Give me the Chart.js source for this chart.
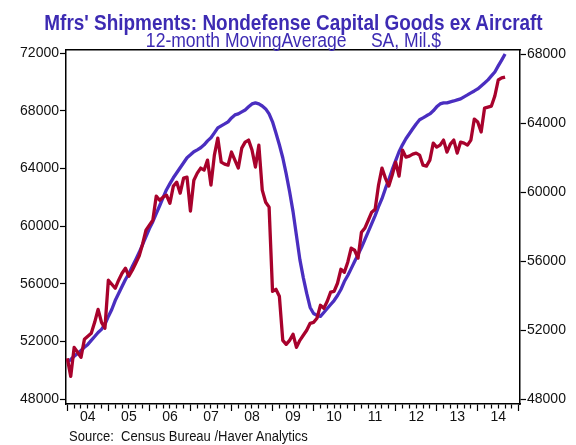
<!DOCTYPE html>
<html>
<head>
<meta charset="utf-8">
<script src="https://cdn.jsdelivr.net/npm/chart.js@4.4.1/dist/chart.umd.min.js"></script>
<style>
  html, body { margin: 0; padding: 0; background: #fff; }
  #wrap { position: relative; width: 576px; height: 445px; overflow: hidden; }
  #chart { position: absolute; left: 0; top: 0; }
  .txt { position: absolute; white-space: pre; font-family: "Liberation Sans", Arial, sans-serif; line-height: 1; }
  #title { left: 0; width: 587px; top: 12px; text-align: center; font-size: 21.6px; font-weight: bold; color: #3d2bb3; transform: scaleX(0.877); }
  #subtitle { left: 0; width: 587px; top: 31.4px; text-align: center; font-size: 19.5px; color: #3d2bb3; transform: scaleX(0.9); }
  #source { left: 69px; top: 429px; font-size: 14px; color: #111; transform: scaleX(0.93); transform-origin: 0 0; }
</style>
</head>
<body>
<div id="wrap">
  <canvas id="chart" width="576" height="445"></canvas>
  <div id="title" class="txt">Mfrs' Shipments: Nondefense Capital Goods ex Aircraft</div>
  <div id="subtitle" class="txt">12-month MovingAverage     SA, Mil.$</div>
  <div id="source" class="txt">Source:  Census Bureau /Haver Analytics</div>
</div>
<script>
// tick labels
const yearLabels = ['04', '05', '06', '07', '08', '09', '10', '11', '12', '13', '14'];
const leftTicks = [48000, 52000, 56000, 60000, 64000, 68000, 72000];
const rightTicks = [48000, 52000, 56000, 60000, 64000, 68000];
const firstYear = 2004;

// monthly shipments, Jan 2004 - Sep 2014 (left axis)
const shipments = [
  50840, 49590, 51600, 51260, 50910, 52160, 52370, 52580, 53340, 54240, 53340, 52930,
  56260, 55980, 55700, 56260, 56740, 57090, 56540, 56950, 57440, 57930, 58760, 59730,
  60080, 60420, 62090, 61810, 62020, 62160, 61600, 62790, 63060, 62300, 63340, 63410,
  61050, 63200, 63690, 64040, 63900, 64590, 62860, 64940, 66120, 64450, 64310, 64240,
  65150, 64590, 64040, 65420, 65840, 65980, 65290, 64110, 65630, 62510, 61670, 61330,
  55490, 55630, 55150, 52090, 51810, 52090, 52510, 51600, 52090, 52440, 52790, 53270,
  53340, 53620, 54520, 54310, 54800, 55430, 55490, 56050, 57020, 56810, 57510, 58480,
  58340, 57790, 59590, 59870, 60420, 60980, 61190, 62860, 64040, 63340, 62790, 63550,
  64450, 63480, 65290, 64800, 64870, 65010, 65080, 64940, 64240, 64170, 64590, 65770,
  65490, 65630, 65980, 65150, 65700, 65980, 65080, 65840, 65770, 65630, 65980, 67440,
  67230, 66540, 68200, 68270, 68340, 69040, 70150, 70290, 70350
];

// 12-month moving average (right axis)
const movingAvg = [
  50140, 50310, 50490, 50660, 50830, 51010, 51180, 51410, 51640, 51870, 52050, 52340,
  52800, 53200, 53720, 54130, 54530, 54940, 55280, 55690, 56090, 56500, 56960, 57420,
  57890, 58290, 58750, 59210, 59680, 60140, 60490, 60830, 61120, 61410, 61700, 61990,
  62160, 62340, 62450, 62570, 62740, 62970, 63150, 63430, 63720, 63840, 63950, 64070,
  64300, 64470, 64530, 64650, 64760, 64940, 65110, 65170, 65110, 64990, 64820, 64530,
  64070, 63430, 62740, 61990, 61060, 60020, 58870, 57480, 56090, 55050, 54130, 53320,
  52970, 52860, 52800, 53030, 53260, 53490, 53720, 54010, 54360, 54820, 55170, 55570,
  55980, 56380, 56790, 57250, 57710, 58170, 58640, 59160, 59620, 60200, 60720, 61300,
  61820, 62340, 62740, 63090, 63380, 63670, 63950, 64190, 64300, 64420, 64530, 64710,
  64940, 65110, 65170, 65170, 65230, 65280, 65340, 65400, 65520, 65630, 65750, 65860,
  65980, 66150, 66320, 66500, 66730, 66960, 67310, 67650, 68000
];

const months = shipments.map((_, i) => firstYear + i / 12);

const tickFont = { family: '"Liberation Sans", Arial, sans-serif', size: 14, lineHeight: 1 };

new Chart(document.getElementById('chart').getContext('2d'), {
  type: 'line',
  data: {
    datasets: [
      {
        label: 'Shipments',
        data: months.map((t, i) => ({ x: t, y: shipments[i] })),
        yAxisID: 'yL',
        borderColor: '#a8022c',
        borderWidth: 3.3,
        pointRadius: 0,
        tension: 0,
        borderJoinStyle: 'round'
      },
      {
        label: '12-month MovingAverage',
        data: months.map((t, i) => ({ x: t, y: movingAvg[i] })),
        yAxisID: 'yR',
        borderColor: '#4a2ec0',
        borderWidth: 3.3,
        pointRadius: 0,
        tension: 0,
        borderJoinStyle: 'round'
      }
    ]
  },
  options: {
    responsive: false,
    animation: false,
    devicePixelRatio: 1,
    layout: { padding: { top: 50, left: 0, right: 0, bottom: 0 } },
    plugins: { legend: { display: false }, tooltip: { enabled: false } },
    scales: {
      x: {
        type: 'linear', position: 'bottom', min: 2003.968, max: 2015.03,
        afterBuildTicks: s => {
          s.ticks = [];
          for (let k = 0; k <= 66; k++) s.ticks.push({ value: firstYear + k / 6 });
        },
        afterFit: s => { s.height = 41; },
        ticks: {
          autoSkip: false, maxRotation: 0, padding: -1, color: '#111', font: tickFont,
          callback: (v, i) => (i % 6 === 3 ? yearLabels[(i - 3) / 6] : '')
        },
        grid: {
          drawOnChartArea: false, tickLength: 7, tickColor: '#000', tickWidth: 1.2,
          tickBorderDash: c => (c.index % 6 === 0 ? [] : [4, 20])
        },
        border: { display: true, color: '#000', width: 1.5 }
      },
      x2: {
        type: 'linear', position: 'top', min: 2003.968, max: 2015.03,
        afterFit: s => { s.height = 0; },
        ticks: { display: false },
        grid: { display: false, drawTicks: false },
        border: { display: true, color: '#000', width: 1.5 }
      },
      yL: {
        type: 'linear', position: 'left', min: 47674, max: 72229, bounds: 'data',
        afterBuildTicks: s => { s.ticks = leftTicks.map(v => ({ value: v })); },
        afterFit: s => { s.width = 66; },
        ticks: { padding: 1, color: '#111', font: tickFont, callback: v => String(v) },
        grid: { drawOnChartArea: false, tickLength: 6, tickColor: '#000', tickWidth: 1.2 },
        border: { color: '#000', width: 1.5 }
      },
      yR: {
        type: 'linear', position: 'right', min: 47728, max: 68232, bounds: 'data',
        afterBuildTicks: s => { s.ticks = rightTicks.map(v => ({ value: v })); },
        afterFit: s => { s.width = 56; },
        ticks: { padding: 1, color: '#111', font: tickFont, callback: v => String(v) },
        grid: { drawOnChartArea: false, tickLength: 6, tickColor: '#000', tickWidth: 1.2 },
        border: { color: '#000', width: 1.5 }
      }
    }
  }
});
</script>
</body>
</html>
